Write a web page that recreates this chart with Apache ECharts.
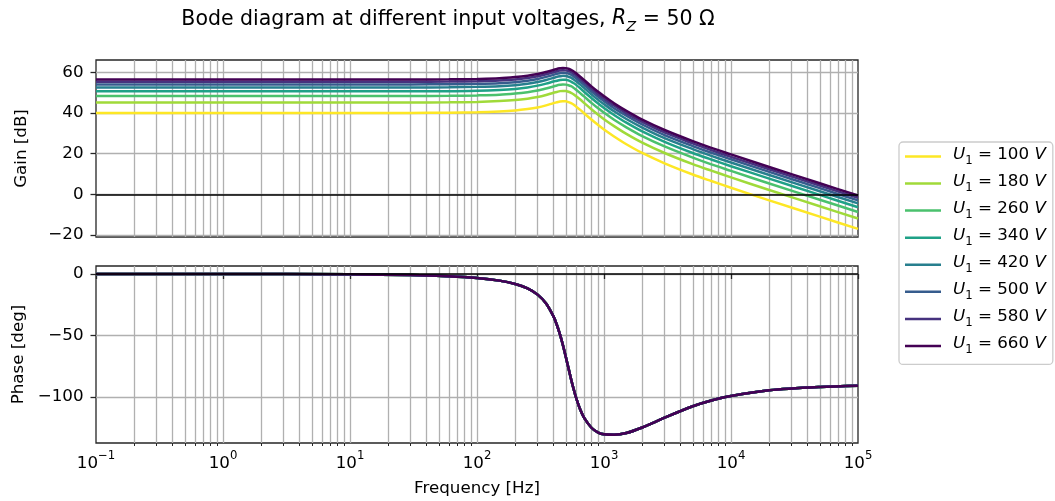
<!DOCTYPE html>
<html>
<head>
<meta charset="utf-8">
<script src="https://cdn.jsdelivr.net/npm/echarts@6/dist/echarts.min.js"></script>
<style>
  html, body { margin: 0; padding: 0; background: #fff; }
  #chart { width: 1055px; height: 501px; }
</style>
</head>
<body>
<div id="chart"></div>
<script>
// Frequency grid [Hz]
const freqs = [0.1, 1, 10, 30, 60, 100, 150, 200, 250, 300, 350, 400, 425, 450, 475,
  500, 525, 550, 575, 600, 650, 700, 800, 900, 1000, 1200, 1500, 2000, 3000, 5000,
  7000, 10000, 20000, 50000, 100000];

// Input voltages U1 [V]
const voltages = ['100', '180', '260', '340', '420', '500', '580', '660'];

// Gain [dB] per input voltage
const gain100 = [40.0, 40.0, 40.0, 40.0, 40.1, 40.3, 40.7, 41.2, 41.9, 42.7, 43.7, 44.8, 45.2, 45.6, 45.7, 45.7, 45.3, 44.8, 44.1, 43.2, 41.5, 39.7, 36.6, 34.0, 31.8, 28.4, 24.6, 20.3, 15.2, 9.7, 6.5, 3.2, -3.0, -11.0, -17.0];
const gain180 = [45.1, 45.1, 45.1, 45.1, 45.2, 45.4, 45.8, 46.3, 47.0, 47.8, 48.8, 49.9, 50.3, 50.7, 50.8, 50.8, 50.4, 49.9, 49.2, 48.3, 46.6, 44.8, 41.7, 39.1, 36.9, 33.5, 29.7, 25.4, 20.3, 14.8, 11.6, 8.3, 2.1, -5.9, -11.9];
const gain260 = [48.3, 48.3, 48.3, 48.3, 48.4, 48.6, 48.9, 49.5, 50.2, 51.0, 52.0, 53.0, 53.5, 53.8, 54.0, 53.9, 53.6, 53.1, 52.4, 51.5, 49.7, 48.0, 44.8, 42.3, 40.1, 36.6, 32.9, 28.6, 23.5, 18.0, 14.7, 11.5, 5.3, -2.7, -8.7];
const gain340 = [50.6, 50.6, 50.6, 50.7, 50.7, 50.9, 51.3, 51.8, 52.5, 53.4, 54.4, 55.4, 55.8, 56.2, 56.3, 56.3, 56.0, 55.4, 54.7, 53.9, 52.1, 50.3, 47.2, 44.6, 42.4, 39.0, 35.2, 30.9, 25.8, 20.3, 17.1, 13.8, 7.7, -0.3, -6.4];
const gain420 = [52.5, 52.5, 52.5, 52.5, 52.6, 52.8, 53.1, 53.6, 54.3, 55.2, 56.2, 57.2, 57.7, 58.0, 58.2, 58.1, 57.8, 57.3, 56.5, 55.7, 53.9, 52.2, 49.0, 46.4, 44.3, 40.8, 37.0, 32.8, 27.6, 22.2, 18.9, 15.6, 9.5, 1.5, -4.5];
const gain500 = [54.0, 54.0, 54.0, 54.0, 54.1, 54.3, 54.6, 55.1, 55.8, 56.7, 57.7, 58.7, 59.2, 59.5, 59.7, 59.6, 59.3, 58.8, 58.0, 57.2, 55.4, 53.7, 50.5, 47.9, 45.8, 42.3, 38.6, 34.3, 29.1, 23.7, 20.4, 17.2, 11.0, 3.0, -3.0];
const gain580 = [55.3, 55.3, 55.3, 55.3, 55.4, 55.6, 55.9, 56.4, 57.1, 58.0, 59.0, 60.0, 60.5, 60.8, 61.0, 60.9, 60.6, 60.1, 59.3, 58.5, 56.7, 55.0, 51.8, 49.2, 47.1, 43.6, 39.8, 35.6, 30.4, 25.0, 21.7, 18.4, 12.3, 4.3, -1.7];
const gain660 = [56.4, 56.4, 56.4, 56.4, 56.5, 56.7, 57.0, 57.6, 58.3, 59.1, 60.1, 61.1, 61.6, 61.9, 62.1, 62.0, 61.7, 61.2, 60.5, 59.6, 57.8, 56.1, 52.9, 50.4, 48.2, 44.7, 41.0, 36.7, 31.6, 26.1, 22.8, 19.6, 13.4, 5.4, -0.6];

// Phase [deg], identical for every input voltage
const phase = [0.0, 0.0, -0.3, -0.9, -1.9, -3.3, -5.4, -8.1, -11.7, -16.8, -24.0, -34.5, -41.3, -49.2, -58.0, -67.3, -76.6, -85.4, -93.2, -99.9, -110.3, -117.3, -125.3, -129.0, -130.4, -130.8, -129.4, -124.9, -116.9, -107.6, -102.9, -99.2, -94.6, -91.9, -90.9];

// Viridis colours, light (100 V) to dark (660 V)
const colors = ['#fde725', '#a0da39', '#4ac16d', '#1fa187', '#277f8e', '#365c8d', '#46327e', '#440154'];

// Tick values
const freqTicks = [0.1, 1, 10, 100, 1000, 10000, 100000];
const gainTicks = [-20, 0, 20, 40, 60];
const phaseTicks = [-100, -50, 0];
const minorFreqTicks = [];
for (let d = -1; d <= 4; d++) {
  for (let m = 2; m <= 9; m++) minorFreqTicks.push(m * Math.pow(10, d));
}

const gainData = [gain100, gain180, gain260, gain340, gain420, gain500, gain580, gain660];

const FONT = 'DejaVu Sans';
const TXT = 16.7;
const GRID_COLOR = '#b0b0b0';
const FRAME_COLOR = '#262626';

const toPairs = ys => freqs.map((f, i) => [f, ys[i]]);
const minus = v => (v < 0 ? '\u2212' + (-v) : String(v));

function majorX(gridIndex, withLabels) {
  return {
    type: 'log', logBase: 10, gridIndex, min: 0.1, max: 100000, position: 'bottom',
    name: withLabels ? 'Frequency [Hz]' : '',
    nameLocation: 'middle', nameGap: 37,
    nameTextStyle: { fontFamily: FONT, fontSize: TXT, color: '#000' },
    axisLine: { show: false },
    axisTick: { show: withLabels, customValues: freqTicks, length: 5, lineStyle: { color: FRAME_COLOR, width: 1.3 } },
    axisLabel: {
      show: withLabels, customValues: freqTicks, margin: 7,
      formatter: v => {
        const e = Math.round(Math.log10(v));
        return '{b|10}{s|' + minus(e) + '}';
      },
      rich: {
        b: { fontFamily: FONT, fontSize: TXT, lineHeight: 22, verticalAlign: 'bottom', color: '#000' },
        s: { fontFamily: FONT, fontSize: 11.7, lineHeight: 8, verticalAlign: 'top', color: '#000' }
      }
    },
    splitLine: { show: true, showMinLine: false, showMaxLine: false, lineStyle: { color: GRID_COLOR, width: 1.3 } }
  };
}

function minorX(gridIndex, withTicks) {
  return {
    type: 'log', logBase: 10, gridIndex, min: 0.1, max: 100000, position: 'bottom',
    axisLine: { show: false },
    axisLabel: { show: false },
    axisTick: { show: withTicks, customValues: minorFreqTicks, length: 3, lineStyle: { color: FRAME_COLOR, width: 1 } },
    splitLine: { show: true, lineStyle: { color: GRID_COLOR, width: 1.3 } }
  };
}

function yAxisCfg(gridIndex, min, max, ticks, name) {
  return {
    type: 'value', gridIndex, min, max, name,
    nameLocation: 'middle', nameGap: 66,
    nameTextStyle: { fontFamily: FONT, fontSize: TXT, color: '#000' },
    axisLine: { show: false },
    axisTick: { show: true, customValues: ticks, length: 5.5, lineStyle: { color: FRAME_COLOR, width: 1.3 } },
    axisLabel: { customValues: ticks, margin: 12.5, fontFamily: FONT, fontSize: TXT, color: '#000', formatter: minus },
    splitLine: { show: true, lineStyle: { color: GRID_COLOR, width: 1.3 } }
  };
}

const zeroLine = {
  silent: true, symbol: 'none', label: { show: false },
  lineStyle: { color: '#000', width: 1.6, type: 'solid' },
  emphasis: { disabled: true },
  data: [{ yAxis: 0 }]
};

const series = [];
gainData.forEach((ys, i) => {
  series.push({
    name: voltages[i], type: 'line', xAxisIndex: 0, yAxisIndex: 0,
    data: toPairs(ys), showSymbol: false, smooth: 0.3,
    lineStyle: { color: colors[i], width: 2.5 }, itemStyle: { color: colors[i] },
    markLine: i === 0 ? zeroLine : undefined
  });
});
voltages.forEach((v, i) => {
  series.push({
    name: v, type: 'line', xAxisIndex: 1, yAxisIndex: 1,
    data: toPairs(phase), showSymbol: false, smooth: 0.3,
    lineStyle: { color: colors[i], width: 2.5 }, itemStyle: { color: colors[i] },
    markLine: i === 0 ? zeroLine : undefined
  });
});

const mathRich = size => ({
  n: { fontFamily: FONT, fontSize: size, lineHeight: size * 1.25, verticalAlign: 'top', color: '#000' },
  it: { fontFamily: FONT, fontSize: size, fontStyle: 'italic', lineHeight: size * 1.25, verticalAlign: 'top', color: '#000' },
  sub: { fontFamily: FONT, fontSize: size * 0.7, fontStyle: 'italic', lineHeight: size * 0.62, verticalAlign: 'bottom', color: '#000' },
  subn: { fontFamily: FONT, fontSize: size * 0.7, lineHeight: size * 0.62, verticalAlign: 'bottom', color: '#000' },
  sp: { width: 7 }
});

const option = {
  animation: false,
  backgroundColor: '#fff',
  textStyle: { fontFamily: FONT },
  title: {
    text: '{n|Bode diagram at different input voltages, }{it|R}{sub|Z}{n| = 50 \u03a9}',
    left: 443, top: 4, textAlign: 'center',
    textStyle: { fontFamily: FONT, fontSize: 20.5, fontWeight: 'normal', color: '#000', rich: mathRich(20.5) }
  },
  legend: {
    data: voltages, orient: 'vertical', left: 899, top: 142,
    icon: 'rect', itemWidth: 36, itemHeight: 2.5, itemGap: 6.2,
    padding: [4, 7, 8, 6],
    borderColor: '#cccccc', borderWidth: 1.3, borderRadius: 4, backgroundColor: '#fff',
    selectedMode: false,
    formatter: name => '{sp| }{it|U}{subn|1}{n| = ' + name + ' }{it|V}',
    textStyle: { fontFamily: FONT, fontSize: TXT, color: '#000', rich: mathRich(TXT) }
  },
  grid: [
    { left: 96, top: 60, width: 762, height: 177, show: true, borderColor: FRAME_COLOR, borderWidth: 1.3, backgroundColor: 'transparent' },
    { left: 96, top: 266, width: 762, height: 177, show: true, borderColor: FRAME_COLOR, borderWidth: 1.3, backgroundColor: 'transparent' }
  ],
  xAxis: [majorX(0, false), majorX(1, true), minorX(0, false), minorX(1, true)],
  yAxis: [
    yAxisCfg(0, -21, 66, gainTicks, 'Gain [dB]'),
    yAxisCfg(1, -137.5, 6.5, phaseTicks, 'Phase [deg]')
  ],
  series
};

const chart = echarts.init(document.getElementById('chart'), null, { renderer: 'canvas' });
chart.setOption(option);
</script>
</body>
</html>
